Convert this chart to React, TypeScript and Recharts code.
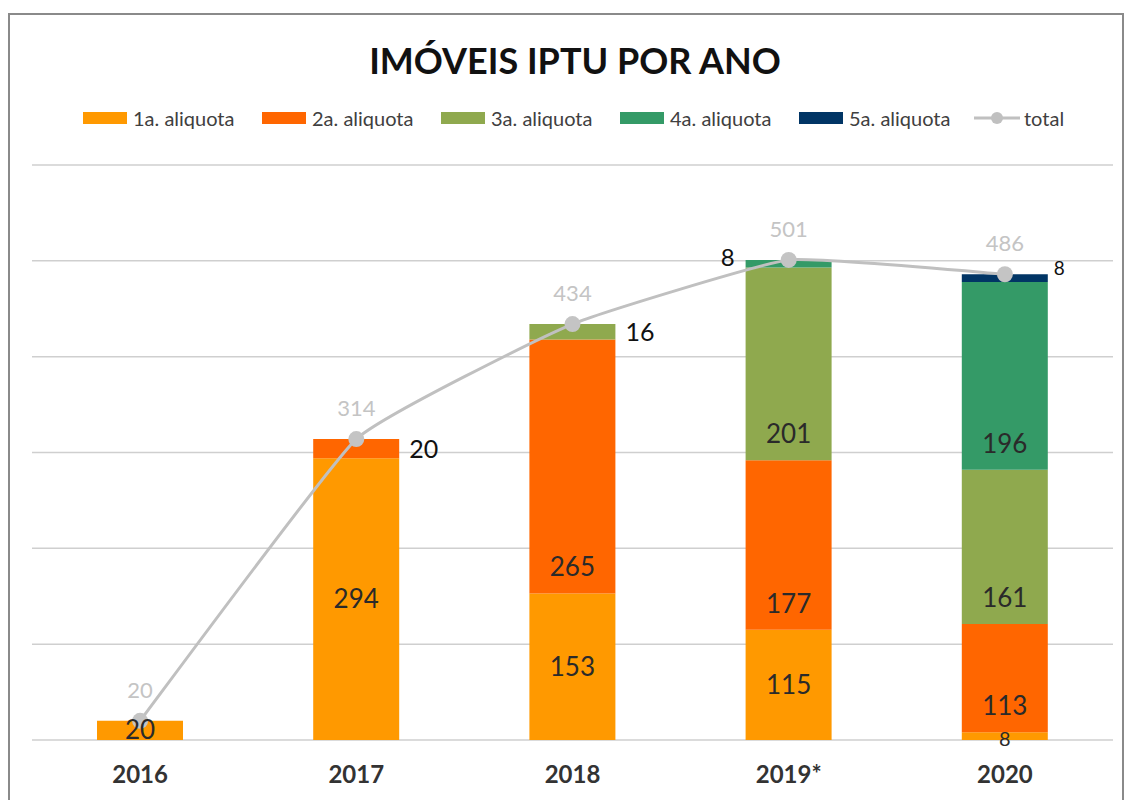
import { ComposedChart, Bar, Line, XAxis, YAxis, CartesianGrid, LabelList } from "recharts"

const years = ["2016", "2017", "2018", "2019*", "2020"]
const aliq1 = [20, 294, 153, 115, 8]
const aliq2 = [null, 20, 265, 177, 113]
const aliq3 = [null, null, 16, 201, 161]
const aliq4 = [null, null, null, 8, 196]
const aliq5 = [null, null, null, null, 8]
const totals = [20, 314, 434, 501, 486]
const yTicks = [0, 100, 200, 300, 400, 500, 600]

const series = [
  { key: "a1", name: "1a. aliquota", color: "#ff9900", values: aliq1 },
  { key: "a2", name: "2a. aliquota", color: "#ff6600", values: aliq2 },
  { key: "a3", name: "3a. aliquota", color: "#8fa94e", values: aliq3 },
  { key: "a4", name: "4a. aliquota", color: "#349a67", values: aliq4 },
  { key: "a5", name: "5a. aliquota", color: "#013565", values: aliq5 },
]

// small segments whose label sits beside the bar
const outside: Record<string, string> = {
  "2017:a2": "right",
  "2018:a3": "right",
  "2019*:a4": "left",
  "2020:a5": "right",
}

const data = years.map((y, i) => {
  const row: any = { year: y, total: totals[i] }
  series.forEach(s => { row[s.key] = s.values[i] })
  return row
})

const font = "Lato, 'Open Sans', sans-serif"

// lightly smoothed line, close to excel's look
function smoothCurve(context: any) {
  let pts: number[][] = []
  const k = 0.06
  return {
    areaStart() {},
    areaEnd() {},
    lineStart() { pts = [] },
    point(x: number, y: number) { pts.push([x, y]) },
    lineEnd() {
      if (!pts.length) return
      context.moveTo(pts[0][0], pts[0][1])
      for (let i = 0; i < pts.length - 1; i++) {
        const p0 = pts[Math.max(i - 1, 0)]
        const p1 = pts[i]
        const p2 = pts[i + 1]
        const p3 = pts[Math.min(i + 2, pts.length - 1)]
        context.bezierCurveTo(
          p1[0] + (p2[0] - p0[0]) * k, p1[1] + (p2[1] - p0[1]) * k,
          p2[0] - (p3[0] - p1[0]) * k, p2[1] - (p3[1] - p1[1]) * k,
          p2[0], p2[1]
        )
      }
    },
  }
}

function segLabel(key: string) {
  return (p: any) => {
    const { x, y, width, height, value } = p
    if (value == null) return null
    const [year, v] = String(value).split("|")
    const side = outside[year + ":" + key]
    const cy = y + height / 2
    if (side === "right") {
      const small = key === "a5"
      return <text x={x + width + (small ? 6 : 10)} y={cy} dy={small ? -3 : 9} fontSize={small ? 19 : 25} fill="#111" fontFamily={font}>{v}</text>
    }
    if (side === "left") {
      return <text x={x - 11} y={cy} dy={2} textAnchor="end" fontSize={24} fill="#111" fontFamily={font}>{v}</text>
    }
    const small = Number(v) < 10
    const ly = key === "a1" ? cy : y + height - 26
    return <text x={x + width / 2} y={ly} dy={small ? 10 : 9} textAnchor="middle" fontSize={small ? 20 : 26} fill="#2a2a2a" fontFamily={font}>{v}</text>
  }
}

function totalLabel(p: any) {
  const { x, y, value } = p
  return <text x={x} y={y - 23} textAnchor="middle" fontSize={22} fill="#c4c4c4" fontFamily={font}>{value}</text>
}

function LegendBox() {
  return (
    <div style={{ position: "absolute", left: 83, top: 106, display: "flex", fontFamily: font, fontSize: 20, color: "#404040", lineHeight: "24px" }}>
      {series.map(s => (
        <div key={s.key} style={{ display: "flex", alignItems: "center", width: 179 }}>
          <span style={{ display: "inline-block", width: 44, height: 12, background: s.color, marginRight: 6 }} />
          {s.name}
        </div>
      ))}
      <div style={{ display: "flex", alignItems: "center", marginLeft: -4 }}>
        <svg width={46} height={16} style={{ marginRight: 4 }}>
          <line x1={0} y1={8} x2={46} y2={8} stroke="#c0c0c0" strokeWidth={3} />
          <circle cx={23} cy={8} r={6} fill="#c0c0c0" />
        </svg>
        total
      </div>
    </div>
  )
}

export default function App() {
  return (
    <div style={{ position: "absolute", left: 0, top: 0, width: 1129, height: 800, background: "#fff", overflow: "hidden" }}>
      <div style={{ position: "absolute", left: 8, top: 13, width: 1116, height: 800, border: "2px solid #8a8a8a", boxSizing: "border-box" }} />
      <div style={{ position: "absolute", left: 0, top: 38, width: 1150, textAlign: "center", fontFamily: font, fontWeight: 700, fontSize: 36, color: "#111" }}>
        IMÓVEIS IPTU POR ANO
      </div>
      <LegendBox />
      <div style={{ position: "absolute", left: 0, top: 0 }}>
        <ComposedChart width={1129} height={800} data={data} margin={{ top: 165, right: 16, left: 32, bottom: 30 }}>
          <CartesianGrid vertical={false} stroke="#cfcfcf" strokeWidth={1.5} />
          <YAxis hide domain={[0, 600]} ticks={yTicks} />
          <XAxis dataKey="year" axisLine={false} tickLine={false} tickMargin={20} height={30}
            tick={{ fontSize: 24, fontWeight: 700, fill: "#333", fontFamily: font }} />
          {series.map(s => (
            <Bar key={s.key} dataKey={s.key} name={s.name} stackId="a" fill={s.color} barSize={86} isAnimationActive={false}>
              <LabelList dataKey={(d: any) => (d[s.key] == null ? null : d.year + "|" + d[s.key])} content={segLabel(s.key)} />
            </Bar>
          ))}
          <Line dataKey="total" name="total" type={smoothCurve as any} stroke="#c0c0c0" strokeWidth={3}
            dot={{ r: 8, fill: "#c4c4c4", stroke: "none" }} isAnimationActive={false}>
            <LabelList dataKey="total" content={totalLabel} />
          </Line>
        </ComposedChart>
      </div>
    </div>
  )
}
